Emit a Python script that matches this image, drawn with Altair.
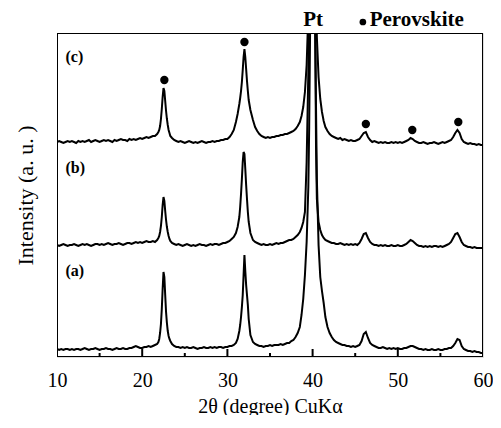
import altair as alt
import pandas as pd

# 2-theta sampling positions (degrees), shared by the three patterns
two_theta = [
    10.0, 10.25, 10.5, 10.75,
    11.0, 11.25, 11.5, 11.75,
    12.0, 12.25, 12.5, 12.75,
    13.0, 13.25, 13.5, 13.75,
    14.0, 14.25, 14.5, 14.75,
    15.0, 15.25, 15.5, 15.75,
    16.0, 16.25, 16.5, 16.75,
    17.0, 17.25, 17.5, 17.75,
    18.0, 18.25, 18.5, 18.75,
    19.0, 19.25, 19.5, 19.75,
    20.0, 20.25, 20.5, 20.75,
    21.0, 21.25, 21.5, 21.75,
    21.9, 22.0, 22.1, 22.2, 22.3, 22.4, 22.5, 22.6, 22.7, 22.8, 22.9, 23.0, 23.1, 23.2, 23.3, 23.5,
    23.75,
    24.0, 24.25, 24.5, 24.75,
    25.0, 25.25, 25.5, 25.75,
    26.0, 26.25, 26.5, 26.75,
    27.0, 27.25, 27.5, 27.75,
    28.0, 28.25, 28.5, 28.75,
    29.0, 29.25, 29.5, 29.75,
    30.0, 30.25, 30.5, 30.75,
    31.0,
    31.2, 31.4, 31.5, 31.6, 31.7, 31.8, 31.9, 32.0, 32.1, 32.2, 32.3, 32.4, 32.5, 32.7, 33.0,
    33.25, 33.5, 33.75,
    34.0, 34.25, 34.5, 34.75,
    35.0, 35.25, 35.5, 35.75,
    36.0, 36.25, 36.5, 36.75,
    37.0, 37.25, 37.5, 37.75,
    38.0, 38.25, 38.5,
    38.7, 38.9, 39.1, 39.3, 39.5, 39.6, 39.7, 39.8, 39.9, 40.0, 40.1, 40.2, 40.3, 40.4, 40.5, 40.7, 40.9, 41.1, 41.3, 41.5,
    41.75,
    42.0, 42.25, 42.5, 42.75,
    43.0, 43.25, 43.5, 43.75,
    44.0, 44.25, 44.5, 44.75,
    45.0, 45.25, 45.5, 45.75,
    46.0, 46.25, 46.5, 46.75,
    47.0, 47.25, 47.5, 47.75,
    48.0, 48.25, 48.5, 48.75,
    49.0, 49.25, 49.5, 49.75,
    50.0, 50.25, 50.5, 50.75,
    51.0, 51.25, 51.5, 51.75,
    52.0, 52.25, 52.5, 52.75,
    53.0, 53.25, 53.5, 53.75,
    54.0, 54.25, 54.5, 54.75,
    55.0, 55.25, 55.5, 55.75,
    56.0, 56.25, 56.5, 56.75,
    57.0, 57.25, 57.5, 57.75,
    58.0, 58.25, 58.5, 58.75,
    59.0, 59.25, 59.5, 59.75,
    60.0,
]

# intensity (a.u., offset as plotted) of pattern (a)
intensity_a = [
    8, 7, 8, 7,
    8, 8, 7, 8,
    7, 8, 8, 7,
    8, 9, 8, 7,
    8, 8, 9, 8,
    7, 8, 8, 9,
    8, 8, 7, 8,
    9, 8, 8, 9,
    8, 8, 9, 9,
    10, 11, 10, 9,
    9, 10, 10, 11,
    10, 11, 12, 13,
    15, 18, 24, 33, 48, 68, 85, 80, 62, 45, 34, 26, 21, 18, 16, 13,
    11,
    10, 10, 9, 10,
    9, 10, 9, 9,
    10, 9, 8, 9,
    9, 10, 9, 9,
    10, 9, 10, 9,
    10, 10, 9, 10,
    10, 11, 11, 12,
    14,
    18, 26, 32, 40, 50, 62, 82, 102, 86, 72, 62, 52, 38, 22, 15,
    13, 12, 11,
    11, 10, 11, 11,
    12, 11, 12, 12,
    12, 13, 12, 13,
    14, 14, 16, 17,
    20, 24, 30,
    42, 58, 82, 115, 170, 230, 320, 430, 510, 540, 500, 420, 330, 250, 178, 112, 80, 66, 54, 40,
    30,
    24, 20, 17, 15,
    14, 13, 12, 12,
    11, 11, 10, 11,
    10, 11, 12, 16,
    23, 25, 19, 14,
    12, 11, 10, 9,
    9, 10, 9, 8,
    9, 8, 9, 8,
    9, 8, 8, 9,
    9, 10, 11, 11,
    10, 9, 8, 8,
    7, 8, 7, 7,
    8, 7, 7, 8,
    7, 7, 8, 8,
    9, 9, 11, 14,
    18, 17, 11, 8,
    7, 6, 6, 5,
    6, 5, 5, 4,
    4,
]

# intensity of pattern (b)
intensity_b = [
    112, 111, 112, 113,
    112, 111, 112, 112,
    113, 112, 111, 112,
    113, 112, 113, 112,
    111, 112, 113, 113,
    112, 113, 112, 113,
    114, 113, 112, 113,
    113, 114, 113, 112,
    113, 114, 114, 113,
    114, 115, 114, 115,
    114, 115, 116, 115,
    115, 116, 115, 117,
    119, 121, 125, 131, 140, 152, 160, 156, 146, 137, 130, 125, 121, 118, 116, 114,
    113,
    112, 113, 112, 111,
    112, 113, 112, 111,
    112, 111, 112, 113,
    112, 112, 111, 112,
    113, 112, 113, 113,
    112, 113, 114, 114,
    115, 116, 118, 120,
    124,
    130, 140, 150, 163, 178, 195, 205, 203, 188, 172, 158, 145, 135, 124, 117,
    115, 114, 113,
    112, 113, 112, 112,
    113, 112, 113, 114,
    113, 114, 114, 115,
    116, 117, 117, 118,
    120, 122, 125,
    129, 135, 145, 195, 285, 360, 440, 520, 580, 600, 560, 470, 340, 210, 158, 135, 127, 122, 119, 117,
    116,
    115, 114, 114, 113,
    113, 114, 113, 112,
    113, 112, 113, 112,
    113, 112, 114, 118,
    123, 124, 119, 115,
    113, 112, 112, 111,
    112, 111, 112, 111,
    111, 112, 111, 111,
    112, 111, 111, 112,
    113, 115, 117, 116,
    114, 112, 111, 111,
    110, 111, 110, 111,
    110, 111, 111, 110,
    111, 110, 111, 112,
    113, 115, 119, 123,
    124, 120, 115, 112,
    111, 110, 110, 109,
    110, 109, 109, 109,
    109,
]

# intensity of pattern (c)
intensity_c = [
    215, 216, 215, 214,
    215, 216, 215, 216,
    215, 214, 216, 215,
    216, 215, 216, 217,
    215, 216, 217, 216,
    215, 216, 217, 216,
    217, 216, 215, 217,
    216, 217, 218, 217,
    217, 216, 218, 217,
    218, 217, 218, 219,
    218, 219, 220, 219,
    220, 221, 221, 223,
    225, 227, 231, 238, 248, 260, 269, 266, 256, 246, 238, 232, 227, 224, 221, 219,
    217,
    216, 215, 216, 215,
    214, 215, 216, 215,
    214, 215, 214, 215,
    216, 215, 214, 215,
    215, 216, 215, 216,
    216, 217, 217, 218,
    218, 220, 223, 227,
    235,
    243, 253, 259, 266, 275, 287, 300, 308, 300, 288, 276, 266, 257, 247, 237,
    230, 226, 223,
    221, 220, 219, 220,
    219, 220, 220, 221,
    221, 222, 222, 223,
    223, 224, 225, 226,
    228, 231, 235,
    241, 250, 265, 292, 345, 400, 480, 560, 620, 640, 610, 540, 450, 370, 320, 280, 258, 245, 236, 230,
    226,
    223, 221, 220, 219,
    218, 219, 217, 218,
    217, 216, 217, 216,
    216, 217, 218, 221,
    224, 225, 220, 217,
    215, 216, 215, 214,
    215, 214, 215, 214,
    214, 215, 214, 215,
    214, 215, 214, 215,
    216, 217, 219, 218,
    216, 215, 214, 214,
    215, 214, 213, 214,
    214, 215, 214, 213,
    214, 215, 214, 215,
    216, 217, 220, 224,
    227, 224, 218, 215,
    214, 213, 214, 213,
    213, 212, 213, 212,
    212,
]

# perovskite peak markers on pattern (c)
marker_x = [22.6, 32.0, 46.25, 51.7, 57.1]
marker_y = [277, 315, 233, 227, 235]

# sample labels
sample_names = ["(c)", "(b)", "(a)"]
sample_label_x = [11.0, 11.0, 11.0]
sample_label_y = [300, 189, 86]

# annotations above the frame
pt_text = ["Pt"]
pt_x = [40.07]
pt_y = [337]
legend_dot_x = [45.9]
legend_dot_y = [335]
legend_text = ["Perovskite"]
legend_text_x = [46.7]
legend_text_y = [337]

major_ticks = [10, 20, 30, 40, 50, 60]
minor_ticks = [15, 25, 35, 45, 55]
major_len = 8   # tick length, intensity units
minor_len = 4

# plot frame corners (axis ranges), drawn as one closed line
frame_x = [10.0, 60.0, 60.0, 10.0, 10.0]
frame_y = [0.0, 0.0, 324.0, 324.0, 0.0]

SERIF = "Liberation Serif, Times New Roman, DejaVu Serif, serif"
W, H = 426, 324

# one long table: the three patterns plus frame and tick segments, each its own path
rows = []
for name, ys in (("a", intensity_a), ("b", intensity_b), ("c", intensity_c)):
    for i, (x, y) in enumerate(zip(two_theta, ys)):
        rows.append({"two_theta": x, "intensity": float(y), "sample": name, "i": i})
for i, (x, y) in enumerate(zip(frame_x, frame_y)):
    rows.append({"two_theta": x, "intensity": y, "sample": "frame", "i": i})
for t in major_ticks:
    rows.append({"two_theta": float(t), "intensity": 0.0, "sample": f"M{t}", "i": 0})
    rows.append({"two_theta": float(t), "intensity": float(major_len), "sample": f"M{t}", "i": 1})
for t in minor_ticks:
    rows.append({"two_theta": float(t), "intensity": 0.0, "sample": f"m{t}", "i": 0})
    rows.append({"two_theta": float(t), "intensity": float(minor_len), "sample": f"m{t}", "i": 1})
curves = pd.DataFrame(rows)

xscale = alt.Scale(domain=[10, 60], nice=False, zero=False)
yscale = alt.Scale(domain=[0, 324], nice=False, zero=False)

lines = alt.Chart(curves).mark_line(clip=True, color="black", strokeWidth=2.0).encode(
    x=alt.X("two_theta:Q", scale=xscale,
            axis=alt.Axis(values=major_ticks, title="2θ (degree) CuKα", ticks=False,
                          domain=False, grid=False, labelFont=SERIF, labelFontSize=20,
                          labelColor="black", labelPadding=13, labelFlush=False,
                          titleFont=SERIF, titleFontSize=20, titleFontWeight="normal",
                          titleColor="black", titlePadding=6)),
    y=alt.Y("intensity:Q", scale=yscale,
            axis=alt.Axis(labels=False, ticks=False, domain=False, grid=False,
                          title="Intensity (a. u. )", titleFont=SERIF, titleFontSize=22,
                          titleFontWeight="normal", titleColor="black", titlePadding=20)),
    detail="sample:N",
    order="i:Q",
)

markers = alt.Chart(pd.DataFrame({"x": marker_x, "y": marker_y})).mark_point(
    shape="circle", filled=True, color="black", opacity=1, size=70
).encode(x=alt.X("x:Q", scale=xscale), y=alt.Y("y:Q", scale=yscale))

labels = alt.Chart(pd.DataFrame({"x": sample_label_x, "y": sample_label_y, "t": sample_names})).mark_text(
    align="left", baseline="middle", font=SERIF, fontSize=16, fontWeight="bold", color="black"
).encode(x=alt.X("x:Q", scale=xscale), y=alt.Y("y:Q", scale=yscale), text="t:N")

pt = alt.Chart(pd.DataFrame({"x": pt_x, "y": pt_y, "t": pt_text})).mark_text(
    align="center", baseline="middle", font=SERIF, fontSize=21, fontWeight="bold", color="black"
).encode(x=alt.X("x:Q", scale=xscale), y=alt.Y("y:Q", scale=yscale), text="t:N")

legend_dot = alt.Chart(pd.DataFrame({"x": legend_dot_x, "y": legend_dot_y})).mark_point(
    shape="circle", filled=True, color="black", opacity=1, size=45
).encode(x=alt.X("x:Q", scale=xscale), y=alt.Y("y:Q", scale=yscale))

legend_txt = alt.Chart(pd.DataFrame({"x": legend_text_x, "y": legend_text_y, "t": legend_text})).mark_text(
    align="left", baseline="middle", font=SERIF, fontSize=21, fontWeight="bold", color="black"
).encode(x=alt.X("x:Q", scale=xscale), y=alt.Y("y:Q", scale=yscale), text="t:N")

chart = alt.layer(lines, markers, labels, pt, legend_dot, legend_txt).properties(
    width=W, height=H,
    background="white",
    autosize=alt.AutoSizeParams(type="none"),
    padding={"left": 49, "top": 25, "right": 10, "bottom": 58},
)

chart.save("out.html", embed_options={"renderer": "svg", "actions": False})
